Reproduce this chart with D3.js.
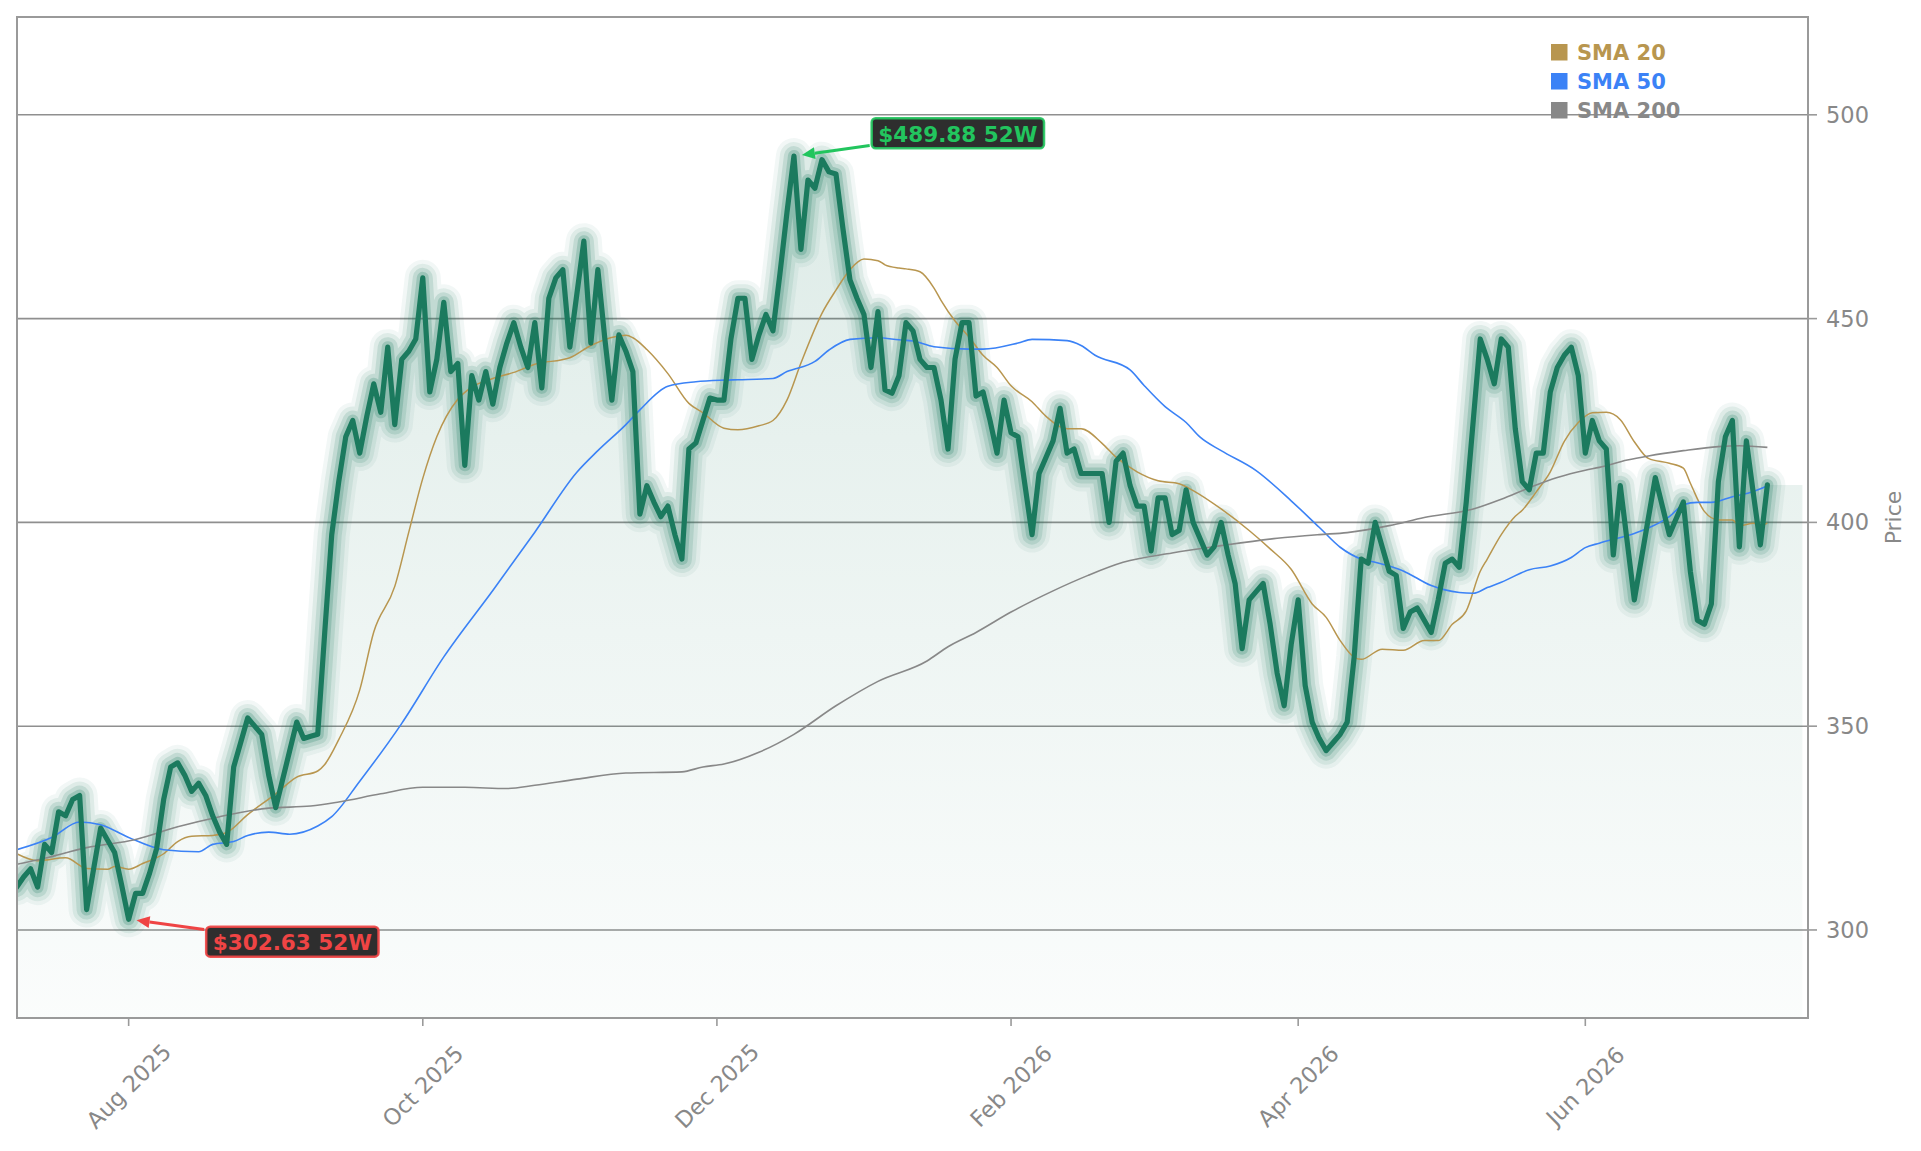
<!DOCTYPE html>
<html><head><meta charset="utf-8">
<script src="https://cdn.jsdelivr.net/npm/d3@7"></script>
<style>html,body{margin:0;padding:0;background:#fff;} svg{display:block;}</style>
</head><body>
<svg id="chart" width="1921" height="1151"></svg>
<script>
// ---------------- DATA ----------------
const startDate = "2025-07-10";
const endDate = "2026-07-09";
const holidays = ["2025-09-01","2025-11-27","2025-12-25","2026-01-01","2026-01-19","2026-02-16","2026-04-03","2026-05-25","2026-06-19","2026-07-03"];

// daily close, one value per trading day
const price = [
310.5,313,315,310.5,321,319,329,328,332,333,
305,315,325,322,319,311,302.63,309,309,314,
320,332,340,341,338,334,336,333,328,324,
321,340,346,352,350,348,338,330,337,344,
351,347,347.5,348,373,397,410,421,425,417,
426,434,427,443,424,440,442,445,460,432,
440,454,437,439,414,436,430,437,429,438,
444,449,443,438,449,433,455,460,462,443,
456,469,444,462,445,430,446,442,437,402,
409,405,401.4,404,397,391,418,419.5,425,430.5,
430,430,445,455,455,440,446,451,447,461,
476,489.88,467,484,482,489,486,485.5,472,459.5,
455,451,438,451.7,432.5,431.7,436,449,447,440,
438,438,430,418,440,449,449,431,432,425,
417,430,422,421,409,397,412,416,420,428,
417,418,412,412,412,412,400,415,417,409,
404,404,393,406,406,397,398,408,400,396,
392,394,400,392,385,369,381,383,385,375,
363,355,370,381,360,351,347,344,346,348,
351,367,391,390,400,394,388,387,374,378,
379,376,373,381,390,391,389,405,425,445,
440,434,445,443,423,410,408,417,417,432,
438,441,443,436,417,425,420,418,392,409,
395,381,391,401,411,404,397,401,405,388,
376,375,380,410,421,425,394,420,407,394.5,
409.2
];

// moving averages (trading-day index, value)
const sma20Idx = [0,3,7,10,13,14,16,18,21,23,25,28,30,33,37,40,43,44,46,49,51,54,56,58,60,63,65,68,71,74,79,82,87,88,90,93,96,98,101,103,106,108,110,112,115,117,119,121,123,124,126,127,129,131,132,134,136,138,140,142,145,147,150,152,155,157,160,163,166,168,172,176,179,182,185,187,189,191,192,195,198,201,203,205,207,209,210,212,214,215,217,219,221,223,225,227,229,231,233,236,238,239,241,243,245,246,248,249,250];
const sma20 = [318.7,317,317.7,315.1,314.9,315.6,314.9,316.3,318.7,321.7,323,323.2,323.9,328.3,333.4,337.5,339,340.6,346.7,358.9,373.1,384.3,397.6,410.8,421,430.2,433.2,435.3,436.8,438.8,440.4,443.4,445.9,445.3,442.4,436.5,429.2,426.9,423.1,422.7,423.7,425,430,439.1,451.3,457,462,464.6,464.2,463.2,462.4,462.2,461.5,457.5,454.5,449.4,445.5,441,438,433.5,429.6,426,423,423,419.4,416,412.4,410.2,409.5,407.8,403.3,398,393.5,388.5,380,376.7,371,366.9,366.4,368.9,368.6,371,371,375,378.3,388,391,397,401.5,403,407.5,412.4,419.9,424.5,426.9,427,425.2,419.8,415.7,414.5,413.3,409.6,402.7,400.6,400.6,399.2,399.8,399.2,399.8];

const sma50Idx = [0,5,9,12,16,21,26,28,31,33,36,39,43,45,49,55,61,68,74,80,83,87,89,93,97,101,103,108,110,114,116,119,123,126,128,131,136,138,143,145,150,152,154,159,161,164,167,169,172,177,182,186,189,192,194,198,202,206,208,210,212,216,219,222,224,226,231,233,236,238,240,242,245,248,250];
const sma50 = [319.7,322.7,326.5,325.8,322.7,319.7,319.2,321,321.7,323.2,324,323.5,325.5,327.8,336.5,350.7,367,383.3,397.6,412.3,417.6,424,427.6,433.4,434.5,434.9,435,435.3,437,439.5,442.3,444.9,445.3,444.8,444.5,443.1,442.5,442.5,444,444.9,444.6,443.4,441,437.4,433.6,428.4,424.5,420.9,417.6,412.7,405.3,398.8,393.9,391,390.2,388.1,384.5,382.8,382.6,384,385.3,388.4,389.3,391.4,393.8,394.9,397.3,398.6,401.4,404.3,404.9,404.9,406.3,407.6,409];

const sma200Idx = [0,4,10,17,23,29,36,42,46,52,58,64,70,74,80,87,95,98,101,106,111,117,123,130,133,137,142,148,153,158,165,172,180,186,190,196,201,208,212,216,220,224,226,230,233,238,243,246,250];
const sma200 = [316.1,317.6,320.2,322.2,325.3,327.8,329.9,330.4,331.4,333.4,335,335,334.7,335.5,337,338.5,338.8,340,340.7,343.6,348,355,361,366,369.5,373,378,383.2,387,390.2,392.5,394.3,396.1,397,397.5,399.2,401.2,403.3,405.7,408.5,411,412.8,413.5,415.3,416.3,417.6,418.6,418.8,418.4];

const tickMonths = ["2025-08","2025-10","2025-12","2026-02","2026-04","2026-06"];
const yTicks = [300,350,400,450,500];
const legendLabels = ["SMA 20","SMA 50","SMA 200"];
const annoSuffix = " 52W";

// ---------------- LAYOUT / STYLE ----------------
const plot = {left:17, right:1808, top:17, bottom:1018};
const colGreen = "#1b7a5e";
const colSma = ["#b8964f", "#3b82f6", "#888888"];
const axisCol = "#888888";
const frameCol = "#9a9a9a";
const font = "'DejaVu Sans', sans-serif";

const parse = d3.utcParse("%Y-%m-%d");
const fmt = d3.utcFormat("%Y-%m-%d");
const hol = new Set(holidays);
const days = d3.utcDays(parse(startDate), d3.utcDay.offset(parse(endDate), 1))
  .filter(d => d.getUTCDay() !== 0 && d.getUTCDay() !== 6 && !hol.has(fmt(d)));
const N = Math.min(days.length, price.length);
const series = d3.range(N).map(i => ({i, date: days[i], v: price[i]}));

const x = d3.scaleLinear().domain([0, 255.8]).range([16.6, plot.right]);
const y = d3.scaleLinear().domain([278.4, 524]).range([plot.bottom, plot.top]);

const svg = d3.select("#chart");
const defs = svg.append("defs");
defs.append("clipPath").attr("id","clip").append("rect")
  .attr("x", plot.left).attr("y", plot.top)
  .attr("width", plot.right - plot.left).attr("height", plot.bottom - plot.top);

const maxPt = series.reduce((a,b) => b.v > a.v ? b : a);
const minPt = series.reduce((a,b) => b.v < a.v ? b : a);

const grad = defs.append("linearGradient").attr("id","fillGrad")
  .attr("gradientUnits","userSpaceOnUse")
  .attr("x1",0).attr("x2",0).attr("y1", y(maxPt.v)).attr("y2", plot.bottom);
grad.append("stop").attr("offset","0").attr("stop-color", colGreen).attr("stop-opacity", 0.15);
grad.append("stop").attr("offset","0.55").attr("stop-color", colGreen).attr("stop-opacity", 0.075);
grad.append("stop").attr("offset","1").attr("stop-color", colGreen).attr("stop-opacity", 0.02);

// grid
const gGrid = svg.append("g");
gGrid.selectAll("line").data(yTicks).join("line")
  .attr("x1", plot.left).attr("x2", plot.right)
  .attr("y1", d => y(d)).attr("y2", d => y(d))
  .attr("stroke", "#8f8f8f").attr("stroke-width", 1.6);

const gPlot = svg.append("g").attr("clip-path","url(#clip)");

// fill under price (extends a few days past the last close)
const fillData = series.concat([{i: 255, v: series[N-1].v}]);
gPlot.append("path").datum(fillData)
  .attr("d", d3.area().x(d => x(d.i)).y0(plot.bottom).y1(d => y(d.v)))
  .attr("fill", "url(#fillGrad)");

const priceLine = d3.line().x(d => x(d.i)).y(d => y(d.v));

// glow
[[36,0.06],[28,0.09],[20,0.14],[12,0.22]].forEach(([w,o]) => {
  gPlot.append("path").datum(series).attr("d", priceLine)
    .attr("fill","none").attr("stroke", colGreen).attr("stroke-opacity", o)
    .attr("stroke-width", w).attr("stroke-linejoin","round").attr("stroke-linecap","round");
});

// SMA lines
const smaSets = [[sma20Idx, sma20], [sma50Idx, sma50], [sma200Idx, sma200]];
const smaLine = d3.line().x(d => x(d[0])).y(d => y(d[1])).curve(d3.curveMonotoneX);
smaSets.forEach(([idx, vals], k) => {
  gPlot.append("path").datum(idx.map((ii, j) => [ii, vals[j]]))
    .attr("d", smaLine).attr("fill","none").attr("stroke", colSma[k])
    .attr("stroke-width", k === 0 ? 1.5 : 1.6);
});

// core price line
gPlot.append("path").datum(series).attr("d", priceLine)
  .attr("fill","none").attr("stroke", colGreen).attr("stroke-width", 5.2)
  .attr("stroke-linejoin","round").attr("stroke-linecap","round");

// frame
svg.append("rect").attr("x", plot.left).attr("y", plot.top)
  .attr("width", plot.right - plot.left).attr("height", plot.bottom - plot.top)
  .attr("fill","none").attr("stroke", frameCol).attr("stroke-width", 2);

// y axis (right)
const gy = svg.append("g");
gy.selectAll("line").data(yTicks).join("line")
  .attr("x1", plot.right).attr("x2", plot.right + 9)
  .attr("y1", d => y(d)).attr("y2", d => y(d))
  .attr("stroke", frameCol).attr("stroke-width", 1.6);
gy.selectAll("text").data(yTicks).join("text")
  .attr("x", plot.right + 18).attr("y", d => y(d))
  .attr("dominant-baseline","central")
  .attr("font-family", font).attr("font-size", 22.5).attr("fill", axisCol)
  .text(d => d);
svg.append("text")
  .attr("transform", `translate(1893,${(plot.top + plot.bottom)/2}) rotate(-90)`)
  .attr("text-anchor","middle").attr("dominant-baseline","central")
  .attr("font-family", font).attr("font-size", 22).attr("fill", axisCol)
  .text("Price");

// x axis
const tickIdx = tickMonths.map(m => series.findIndex(s => fmt(s.date).startsWith(m)));
const monthFmt = d3.utcFormat("%b %Y");
const gx = svg.append("g");
gx.selectAll("line").data(tickIdx).join("line")
  .attr("x1", d => x(d)).attr("x2", d => x(d))
  .attr("y1", plot.bottom).attr("y2", plot.bottom + 8)
  .attr("stroke", frameCol).attr("stroke-width", 1.6);
gx.selectAll("text").data(tickIdx).join("text")
  .attr("transform", d => `translate(${x(d)},1086) rotate(-45)`)
  .attr("text-anchor","middle").attr("dominant-baseline","central")
  .attr("font-family", font).attr("font-size", 22.5).attr("fill", axisCol)
  .text(d => monthFmt(series[d].date));

// legend
const gl = svg.append("g");
legendLabels.forEach((lab, k) => {
  const cy = 52 + k * 29;
  gl.append("rect").attr("x", 1551).attr("y", cy - 8).attr("width", 16.5).attr("height", 16.5)
    .attr("fill", colSma[k]);
  gl.append("text").attr("x", 1577).attr("y", cy + 1).attr("dominant-baseline","central")
    .attr("font-family", font).attr("font-weight","bold").attr("font-size", 21)
    .attr("fill", colSma[k]).text(lab);
});

// annotations
function annotate(pt, color, dx, dy) {
  const px = x(pt.i), py = y(pt.v);
  const cx = px + dx, cy = py + dy;
  const g = svg.append("g");
  const rect = g.append("rect");
  const t = g.append("text").attr("x", cx).attr("y", cy + 1)
    .attr("text-anchor","middle").attr("dominant-baseline","central")
    .attr("font-family", font).attr("font-weight","bold").attr("font-size", 21.5)
    .attr("fill", color).text("$" + pt.v.toFixed(2) + annoSuffix);
  const bb = t.node().getBBox();
  const bw = bb.width + 13, bh = 30;
  rect.attr("x", cx - bw/2).attr("y", cy - bh/2).attr("width", bw).attr("height", bh)
    .attr("rx", 4).attr("fill", "#2e2e2e").attr("stroke", color).attr("stroke-width", 2.5)
    .attr("stroke-opacity", 0.9);
  const ux = px - cx, uy = py - cy, len = Math.hypot(ux, uy);
  const t0 = Math.min((bw/2 + 2) / Math.abs(ux), (bh/2 + 2) / Math.abs(uy));
  const sx = cx + ux * t0, sy = cy + uy * t0;
  const ex = px - ux/len * 8, ey = py - uy/len * 8;
  const nx = ux/len, ny = uy/len;
  const headL = 13, headW = 6;
  const bx = ex - nx * headL, by = ey - ny * headL;
  g.append("line").attr("x1", sx).attr("y1", sy).attr("x2", bx).attr("y2", by)
    .attr("stroke", color).attr("stroke-width", 3);
  g.append("path")
    .attr("d", `M${ex},${ey}L${bx - ny*headW},${by + nx*headW}L${bx + ny*headW},${by - nx*headW}Z`)
    .attr("fill", color);
}
annotate(maxPt, "#22c55e", 163.9, -22.9);
annotate(minPt, "#ef4444", 163.7, 22.4);
</script>
</body></html>
